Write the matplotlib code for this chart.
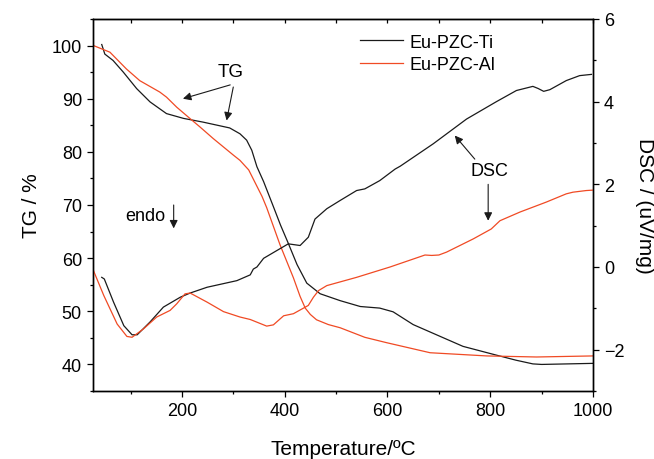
import matplotlib
matplotlib.use('Agg')
import matplotlib.pyplot as plt
from matplotlib.ticker import MultipleLocator

plt.rcParams['font.family'] = ['Liberation Sans', 'DejaVu Sans']

# TG curves (left axis, %)
ti_tg_t = [44, 50, 66, 86, 112, 138, 170, 203, 241, 293, 313, 326, 336, 346, 359, 378, 392, 407,
           424, 443, 469, 508, 547, 585, 611, 650, 702, 747, 806, 850, 883, 900, 950, 1000]
ti_tg = [100.2, 98.4, 97.2, 95.0, 91.9, 89.4, 87.2, 86.3, 85.6, 84.5, 83.4, 82.2, 80.3, 77.2, 74.4,
         69.7, 66.2, 62.8, 58.8, 55.3, 53.3, 52.0, 50.9, 50.6, 49.9, 47.5, 45.3, 43.4, 41.9, 40.8,
         40.1, 40.0, 40.1, 40.2]

al_tg_t = [28, 60, 92, 118, 157, 170, 190, 216, 235, 261, 300, 313, 330, 343, 356, 365, 391, 417,
           430, 440, 450, 462, 485, 508, 556, 598, 683, 793, 890, 1000]
al_tg = [100, 98.75, 95.6, 93.4, 91.25, 90.3, 88.4, 86.25, 84.7, 82.5, 79.4, 78.4, 76.6, 74.1, 71.6,
         69.5, 62.5, 56.3, 52.8, 50.6, 49.4, 48.4, 47.5, 46.9, 45.1, 44.1, 42.2, 41.6, 41.4, 41.6]

# DSC curves (right axis, uV/mg)
ti_dsc_t = [44, 49, 67, 87, 103, 113, 138, 164, 197, 216, 249, 307, 333, 339, 346, 359, 385, 407,
            430, 446, 459, 482, 508, 540, 556, 585, 615, 625, 689, 754, 812, 851, 883, 893, 904,
            916, 948, 974, 997]
ti_dsc = [-0.25, -0.29, -0.85, -1.42, -1.64, -1.64, -1.33, -0.97, -0.73, -0.63, -0.49, -0.33, -0.19,
          -0.05, 0.0, 0.21, 0.40, 0.56, 0.52, 0.72, 1.16, 1.41, 1.61, 1.85, 1.89, 2.09, 2.37, 2.44,
          2.98, 3.58, 4.00, 4.27, 4.37, 4.32, 4.25, 4.29, 4.51, 4.63, 4.66]

al_dsc_t = [28, 48, 74, 93, 103, 125, 151, 177, 190, 206, 216, 249, 281, 313, 333, 365, 378, 398,
            417, 446, 456, 466, 482, 540, 605, 673, 686, 700, 715, 767, 802, 819, 858, 909, 948,
            961, 987, 1000]
al_dsc = [-0.09, -0.69, -1.38, -1.68, -1.70, -1.50, -1.21, -1.05, -0.89, -0.65, -0.63, -0.85, -1.08,
          -1.21, -1.27, -1.43, -1.40, -1.18, -1.13, -0.93, -0.73, -0.57, -0.45, -0.25, 0.0, 0.29,
          0.28, 0.29, 0.36, 0.68, 0.92, 1.12, 1.33, 1.57, 1.77, 1.81, 1.85, 1.86]

black = '#1a1a1a'
red = '#f04a24'

fig = plt.figure(figsize=(6.54, 4.6), dpi=100)
ax = fig.add_axes([93 / 654, 1 - 392 / 460, 500 / 654, 372 / 460])
ax2 = ax.twinx()

l1, = ax.plot(ti_tg_t, ti_tg, color=black, lw=0.9)
l2, = ax.plot(al_tg_t, al_tg, color=red, lw=0.9)
ax2.plot(ti_dsc_t, ti_dsc, color=black, lw=0.9)
ax2.plot(al_dsc_t, al_dsc, color=red, lw=0.9)

ax.set_xlim(27, 1000)
ax.set_ylim(35, 105)
ax2.set_ylim(-3, 6)

ax.xaxis.set_major_locator(MultipleLocator(200))
ax.xaxis.set_minor_locator(MultipleLocator(100))
ax.yaxis.set_major_locator(MultipleLocator(10))
ax.yaxis.set_minor_locator(MultipleLocator(5))
ax2.yaxis.set_major_locator(MultipleLocator(2))
ax2.yaxis.set_minor_locator(MultipleLocator(1))

ax.tick_params(axis='both', which='major', direction='out', length=4.5, width=0.9, labelsize=13)
ax.tick_params(axis='both', which='minor', direction='out', length=2.5, width=0.9)
ax2.tick_params(axis='y', which='major', direction='out', length=4.5, width=0.9, labelsize=13)
ax2.tick_params(axis='y', which='minor', direction='out', length=2.5, width=0.9)

top = ax.secondary_xaxis('top')
top.xaxis.set_major_locator(MultipleLocator(100))
top.tick_params(direction='in', length=3, width=0.9, labeltop=False)

for a in (ax, ax2):
    for s in a.spines.values():
        s.set_linewidth(1.0)

ax.set_xlabel('Temperature/ºC', fontsize=15, labelpad=14)
ax.set_ylabel('TG / %', fontsize=15, labelpad=8)
ax2.set_ylabel('DSC / (uV/mg)', fontsize=15, rotation=270, labelpad=21)

arrow = dict(arrowstyle='-|>', color=black, lw=0.8, mutation_scale=12, shrinkA=0, shrinkB=0)
ax.text(294, 95.1, 'TG', fontsize=13.5, ha='center', va='center')
ax.annotate('', xy=(202, 90.0), xytext=(294, 92.6), arrowprops=arrow)
ax.annotate('', xy=(287, 85.9), xytext=(300, 92.2), arrowprops=arrow)

ax.text(129, 68, 'endo', fontsize=13, ha='center', va='center')
ax.annotate('', xy=(184, 65.6), xytext=(184, 70), arrowprops=arrow)

ax2.text(799, 2.33, 'DSC', fontsize=13, ha='center', va='center')
ax2.annotate('', xy=(731, 3.18), xytext=(770, 2.61), arrowprops=arrow)
ax2.annotate('', xy=(796, 1.12), xytext=(796, 2.0), arrowprops=arrow)

ax.legend([l1, l2], ['Eu-PZC-Ti', 'Eu-PZC-Al'], loc='upper left', bbox_to_anchor=(0.534, 0.961),
          frameon=False, fontsize=13, handlelength=2.4, handletextpad=0.33, labelspacing=0.3,
          borderpad=0, borderaxespad=0)

fig.savefig('out.png', dpi=100)
